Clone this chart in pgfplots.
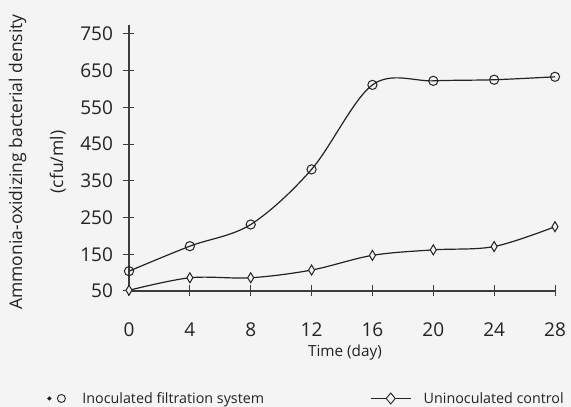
\documentclass[border=0pt]{standalone}
\usepackage{fontspec}
\setmainfont{Open Sans}
\usepackage{pgfplots}
\pgfplotsset{compat=1.18}

\definecolor{PaperBg}{RGB}{244,244,244}
\definecolor{InkDark}{RGB}{35,35,35}
\definecolor{AxisInk}{RGB}{60,60,60}

\begin{document}
\begin{tikzpicture}[x=1pt,y=1pt]
  % page frame, 1px = 1pt
  \fill[PaperBg] (0,0) rectangle (571,407);
  \useasboundingbox (0,0) rectangle (571,407);
  \begin{axis}[
    at={(129pt,116pt)}, anchor=south west,
    scale only axis,
    width=426pt, height=266pt,
    xmin=0, xmax=28, ymin=50, ymax=774,
    axis lines=left,
    axis line style={-, AxisInk, line width=1.1pt},
    xtick={0,4,...,28},
    ytick={50,150,...,750},
    tick align=center,
    major tick length=11pt,
    tick style={AxisInk, line width=1pt},
    /pgf/number format/assume math mode=true,
    tick label style={font=\fontsize{19}{21}\selectfont, text=InkDark},
    xticklabel style={yshift=-23pt},
    yticklabel style={xshift=-7pt},
    xlabel={Time (day)},
    xlabel style={at={(axis description cs:0.507,-0.233)}, anchor=center,
                  font=\fontsize{15.3}{17}\selectfont, text=InkDark},
    ylabel={Ammonia-oxidizing bacterial density\\(cfu/ml)},
    ylabel style={at={(axis description cs:-0.215,0.485)}, anchor=center,
                  align=center, font=\fontsize{17.5}{41}\selectfont, text=InkDark},
    legend columns=2,
    legend style={at={(axis description cs:-0.199,-0.404)}, anchor=west,
                  draw=none, fill=none, font=\fontsize{14.3}{16}\selectfont,
                  text=InkDark,
                  /tikz/every even column/.append style={column sep=104pt}},
  ]
  \addplot[InkDark, line width=1.2pt, smooth, tension=0.55,
           mark=o, mark size=4.6pt,
           mark options={fill=PaperBg, line width=1pt},
           legend image code/.code={
             \fill[InkDark] (0pt,0pt) circle (1.4pt);
             \draw[InkDark, line width=0.9pt] (12pt,0pt) circle (4pt);
             \path[draw=none] (0pt,0pt) -- (31pt,0pt);
           }]
    coordinates {(0,104)(4,172)(8,231)(12,381)(16,611)(20,622)(24,625)(28,633)};
  \addlegendentry{Inoculated filtration system}

  \addplot[InkDark, line width=1.2pt, smooth, tension=0.55,
           mark=diamond*, mark size=5pt,
           mark options={fill=PaperBg, line width=1pt, xscale=0.8},
           legend image code/.code={
             \draw[InkDark, line width=1.1pt] (0pt,0pt) -- (40pt,0pt);
             \draw[InkDark, line width=0.9pt, fill=PaperBg]
               (20pt,5.5pt) -- (24.5pt,0pt) -- (20pt,-5.5pt) -- (15.5pt,0pt) -- cycle;
             \path[draw=none] (0pt,0pt) -- (51pt,0pt);
           }]
    coordinates {(0,52)(4,86)(8,86)(12,107)(16,147)(20,162)(24,171)(28,225)};
  \addlegendentry{Uninoculated control}
  \end{axis}
\end{tikzpicture}
\end{document}
